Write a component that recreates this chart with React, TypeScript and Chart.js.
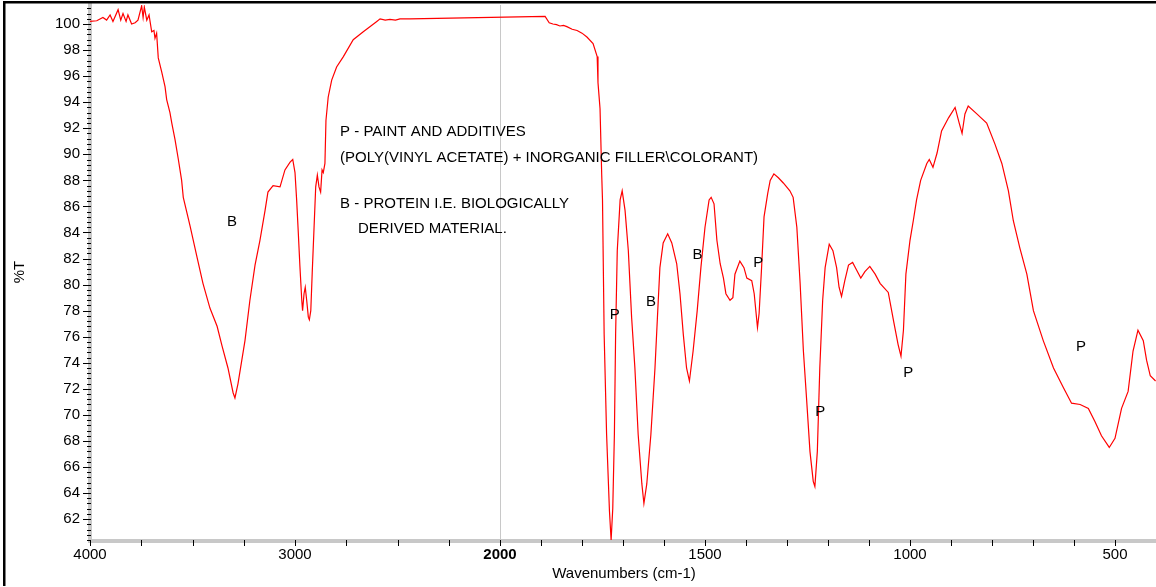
import React, { useEffect, useRef } from "react";
import { Chart, registerables } from "chart.js";

Chart.register(...registerables);

const FONT = '"Liberation Sans", Arial, Helvetica, sans-serif';

// Wavenumbers (cm-1) and %T
const wavenumbers = [
  4000, 3967, 3937, 3919, 3902, 3888, 3863, 3850, 3839, 3824, 3815, 3797, 3780, 3766, 3748, 3741, 3735, 3723, 3712,
  3699, 3688, 3683, 3675, 3667, 3650, 3634, 3626, 3610, 3601, 3585, 3569, 3553, 3545, 3512, 3478, 3449, 3415, 3380,
  3356, 3327, 3302, 3293, 3278, 3244, 3220, 3195, 3171, 3146, 3132, 3107, 3073, 3049, 3024, 3011, 3000, 2992, 2984,
  2976, 2967, 2963, 2956, 2950, 2943, 2935, 2930, 2923, 2916, 2907, 2899, 2891, 2883, 2875, 2868, 2862, 2854, 2849,
  2838, 2821, 2797, 2764, 2716, 2667, 2601, 2585, 2560, 2537, 2510, 2488, 2439, 1890, 1880, 1871, 1862, 1854, 1845,
  1837, 1824, 1812, 1800, 1788, 1773, 1763, 1761, 1756, 1752, 1750, 1746, 1740, 1733, 1729, 1725, 1721, 1718, 1714,
  1707, 1702, 1695, 1687, 1679, 1671, 1663, 1654, 1649, 1642, 1632, 1622, 1616, 1610, 1602, 1591, 1581, 1569, 1561,
  1553, 1545, 1538, 1529, 1519, 1510, 1500, 1490, 1485, 1478, 1471, 1463, 1455, 1449, 1439, 1432, 1427, 1415, 1405,
  1398, 1386, 1380, 1372, 1368, 1362, 1356, 1347, 1341, 1332, 1321, 1309, 1293, 1285, 1276, 1268, 1260, 1252, 1244,
  1236, 1232, 1226, 1220, 1213, 1207, 1197, 1188, 1179, 1173, 1167, 1159, 1150, 1140, 1130, 1120, 1110, 1098, 1085,
  1073, 1053, 1040, 1029, 1022, 1016, 1010, 1000, 992, 984, 974, 959, 953, 944, 934, 923, 906, 890, 880, 873, 866,
  858, 837, 813, 793, 776, 760, 748, 732, 715, 699, 675, 650, 626, 606, 585, 565, 549, 533, 514, 500, 484, 468, 456,
  444, 431, 423, 414, 401,
];

const transmittance = [
  100.2, 100.25, 100.5, 100.3, 100.7, 100.2, 101.1, 100.3, 100.8, 100.2, 100.7, 100.0, 100.1, 100.3, 101.4, 100.5,
  101.3, 100.3, 100.7, 99.4, 99.5, 98.9, 99.3, 97.4, 96.3, 95.2, 94.2, 93.2, 92.4, 91.1, 89.6, 88.0, 86.7, 84.5, 82.1,
  80.1, 78.2, 76.8, 75.3, 73.6, 71.7, 71.3, 72.4, 75.7, 78.8, 81.5, 83.4, 85.7, 87.1, 87.6, 87.5, 88.8, 89.4, 89.6,
  88.6, 86.5, 84.0, 81.4, 78.8, 78.0, 79.3, 79.8, 78.8, 77.5, 77.3, 78.0, 80.9, 84.4, 87.5, 88.4, 87.5, 87.1, 88.8,
  88.6, 89.3, 92.6, 94.4, 95.7, 96.7, 97.5, 98.8, 99.4, 100.2, 100.4, 100.3, 100.35, 100.3, 100.4, 100.4, 100.58,
  100.1, 100.0, 99.95, 99.85, 99.9, 99.8, 99.6, 99.5, 99.3, 99.0, 98.5, 97.5, 95.5, 93.5, 88.5, 86.5, 76.2, 68.5,
  62.6, 60.4, 62.8, 68.5, 76.2, 82.6, 86.5, 87.2, 85.7, 82.6, 77.5, 73.6, 68.5, 64.7, 63.2, 64.7, 68.5, 73.6, 77.5,
  81.3, 83.2, 83.9, 83.2, 81.6, 79.3, 76.2, 73.6, 72.6, 74.9, 78.0, 81.3, 84.4, 86.5, 86.7, 86.2, 83.4, 81.6, 80.5,
  79.3, 78.8, 79.0, 80.8, 81.8, 81.3, 80.5, 80.3, 79.3, 76.7, 77.8, 81.3, 85.2, 87.0, 88.0, 88.5, 88.2, 87.8, 87.2,
  86.7, 84.4, 80.1, 74.9, 71.1, 67.2, 64.9, 64.5, 67.2, 73.6, 78.8, 81.3, 83.1, 82.6, 81.3, 79.8, 79.1, 80.3, 81.5,
  81.7, 81.1, 80.5, 81.0, 81.4, 80.8, 80.1, 79.4, 77.2, 75.4, 74.5, 76.5, 80.8, 83.4, 84.9, 86.5, 88.0, 89.3, 89.6,
  89.0, 90.1, 91.8, 92.8, 93.6, 92.4, 91.6, 93.1, 93.7, 93.1, 92.4, 90.8, 89.3, 87.2, 84.9, 82.8, 80.8, 78.0, 75.7,
  73.6, 72.1, 70.9, 70.8, 70.5, 69.5, 68.4, 67.5, 68.2, 70.5, 71.8, 74.9, 76.5, 75.7, 74.2, 73.0, 72.6,
];

// Axis ticks
const xMajorTicks = [4000, 3000, 2000, 1500, 1000, 500];
const xMinorStepHigh = 250; // above 2000 cm-1
const xMinorStepLow = 100; // below 2000 cm-1
const xLimits = [4000, 400];
const yLimits = [60.32, 101.46];
const yMajorStep = 2;
const yMinorStep = 0.4;

// Annotations
const noteText = [
  "B",
  "P - PAINT AND ADDITIVES",
  "(POLY(VINYL ACETATE) + INORGANIC FILLER\\COLORANT)",
  "B - PROTEIN I.E. BIOLOGICALLY",
  "DERIVED MATERIAL.",
  "P",
  "B",
  "B",
  "P",
  "P",
  "P",
  "P",
];
const noteWavenumber = [3307, 2780, 2780, 2780, 2693, 1720, 1632, 1518, 1370, 1219, 1004, 583];
const noteValue = [84.8, 91.7, 89.7, 86.2, 84.3, 77.7, 78.7, 82.3, 81.7, 70.2, 73.2, 75.2];
const noteAlign = ["center", "left", "left", "left", "left", "center", "center", "center", "center", "center", "center", "center"];

// Split-scale x axis: 4000-2000 compressed by a factor 2
const toU = (w: number) => (w >= 2000 ? (4000 - w) / 2 : 1000 + (2000 - w));
const fromU = (u: number) => (u <= 1000 ? 4000 - 2 * u : 2000 - (u - 1000));

function buildXTicks() {
  const vals: number[] = [];
  for (let w = xLimits[0]; w > 2000; w -= xMinorStepHigh) vals.push(w);
  for (let w = 2000; w >= xLimits[1]; w -= xMinorStepLow) vals.push(w);
  return vals.map((w) => ({ value: toU(w) }));
}

function buildYTicks() {
  const vals: { value: number }[] = [];
  const start = Math.ceil(yLimits[0] / yMinorStep) * yMinorStep;
  for (let i = 0; ; i++) {
    const v = Math.round((start + i * yMinorStep) * 1000) / 1000;
    if (v > yLimits[1]) break;
    vals.push({ value: v });
  }
  return vals;
}

const isYMajor = (v: number) => Math.abs(v - Math.round(v)) < 1e-6 && Math.round(v) % yMajorStep === 0;
const wOf = (u: number) => Math.round(fromU(u));

const overlay = {
  id: "overlay",
  afterDraw(chart: any) {
    const { ctx, chartArea } = chart;
    const x = chart.scales.x;
    const y = chart.scales.y;
    ctx.save();
    // tick marks
    ctx.strokeStyle = "#000";
    ctx.lineWidth = 1;
    ctx.beginPath();
    x.ticks.forEach((t: any) => {
      const px = Math.round(x.getPixelForValue(t.value)) + 0.5;
      ctx.moveTo(px, chartArea.bottom - 1);
      ctx.lineTo(px, chartArea.bottom + 5);
    });
    y.ticks.forEach((t: any) => {
      const py = Math.round(y.getPixelForValue(t.value)) + 0.5;
      ctx.moveTo(isYMajor(t.value) ? chartArea.left - 7 : chartArea.left - 3, py);
      ctx.lineTo(chartArea.left + 1, py);
    });
    ctx.stroke();

    // annotations
    ctx.fillStyle = "#000";
    ctx.font = `15px ${FONT}`;
    ctx.textBaseline = "middle";
    noteText.forEach((txt, i) => {
      ctx.textAlign = noteAlign[i];
      ctx.fillText(txt, x.getPixelForValue(toU(noteWavenumber[i])), y.getPixelForValue(noteValue[i]));
    });

    // axis titles
    ctx.textAlign = "center";
    ctx.fillText("Wavenumbers (cm-1)", (chartArea.left + chartArea.right) / 2 + 1, 574);
    ctx.translate(20, (chartArea.top + chartArea.bottom) / 2 - 1);
    ctx.rotate(-Math.PI / 2);
    ctx.fillText("%T", 0, 0);
    ctx.restore();

    // frame lines
    ctx.save();
    ctx.fillStyle = "#000";
    ctx.fillRect(3, 1, chart.width - 3, 2.5);
    ctx.fillRect(3, 1, 2.5, chart.height - 2);
    ctx.restore();
  },
};

export default function App() {
  const ref = useRef<HTMLCanvasElement | null>(null);

  useEffect(() => {
    document.body.style.margin = "0";
    const canvas = ref.current;
    if (!canvas) return;
    const points = wavenumbers.map((w, i) => ({ x: toU(w), y: transmittance[i] }));
    const chart = new Chart(canvas, {
      type: "line",
      data: {
        datasets: [
          {
            data: points,
            borderColor: "#ff0000",
            borderWidth: 1.2,
            pointRadius: 0,
            tension: 0,
            fill: false,
          },
        ],
      },
      options: {
        animation: false,
        responsive: false,
        devicePixelRatio: 1,
        parsing: false,
        layout: { padding: { left: 0, right: 0, top: 5, bottom: 0 } },
        plugins: { legend: { display: false }, tooltip: { enabled: false }, title: { display: false } },
        scales: {
          x: {
            type: "linear",
            min: toU(xLimits[0]),
            max: toU(xLimits[1]),
            afterBuildTicks: (s: any) => {
              s.ticks = buildXTicks();
            },
            afterFit: (s: any) => {
              s.height = 46;
              s.paddingLeft = 0;
              s.paddingRight = 0;
            },
            ticks: {
              autoSkip: false,
              maxRotation: 0,
              padding: 5,
              color: "#000",
              font: (c: any) => ({
                family: FONT,
                size: 15,
                weight: c.tick && wOf(c.tick.value) === 2000 ? "bold" : "normal",
              }),
              callback: (v: any) => {
                const w = wOf(Number(v));
                return xMajorTicks.includes(w) ? String(w) : "";
              },
            },
            grid: {
              drawTicks: false,
              drawOnChartArea: true,
              lineWidth: 1,
              color: (c: any) => (c.tick && wOf(c.tick.value) === 2000 ? "#c8c8c8" : "rgba(0,0,0,0)"),
            },
            border: { display: true, color: "#c8c8c8", width: 4 },
          },
          y: {
            type: "linear",
            min: yLimits[0],
            max: yLimits[1],
            afterBuildTicks: (s: any) => {
              s.ticks = buildYTicks();
            },
            afterFit: (s: any) => {
              s.width = 90;
              s.paddingTop = 0;
              s.paddingBottom = 0;
            },
            ticks: {
              autoSkip: false,
              padding: 10,
              color: "#000",
              font: { family: FONT, size: 15 },
              callback: (v: any) => (isYMajor(Number(v)) ? String(Math.round(Number(v))) : ""),
            },
            grid: { drawTicks: false, drawOnChartArea: false },
            border: { display: true, color: "#c8c8c8", width: 4 },
          },
        },
      },
      plugins: [overlay],
    });
    return () => chart.destroy();
  }, []);

  return <canvas ref={ref} width={1156} height={587} style={{ display: "block" }} />;
}
